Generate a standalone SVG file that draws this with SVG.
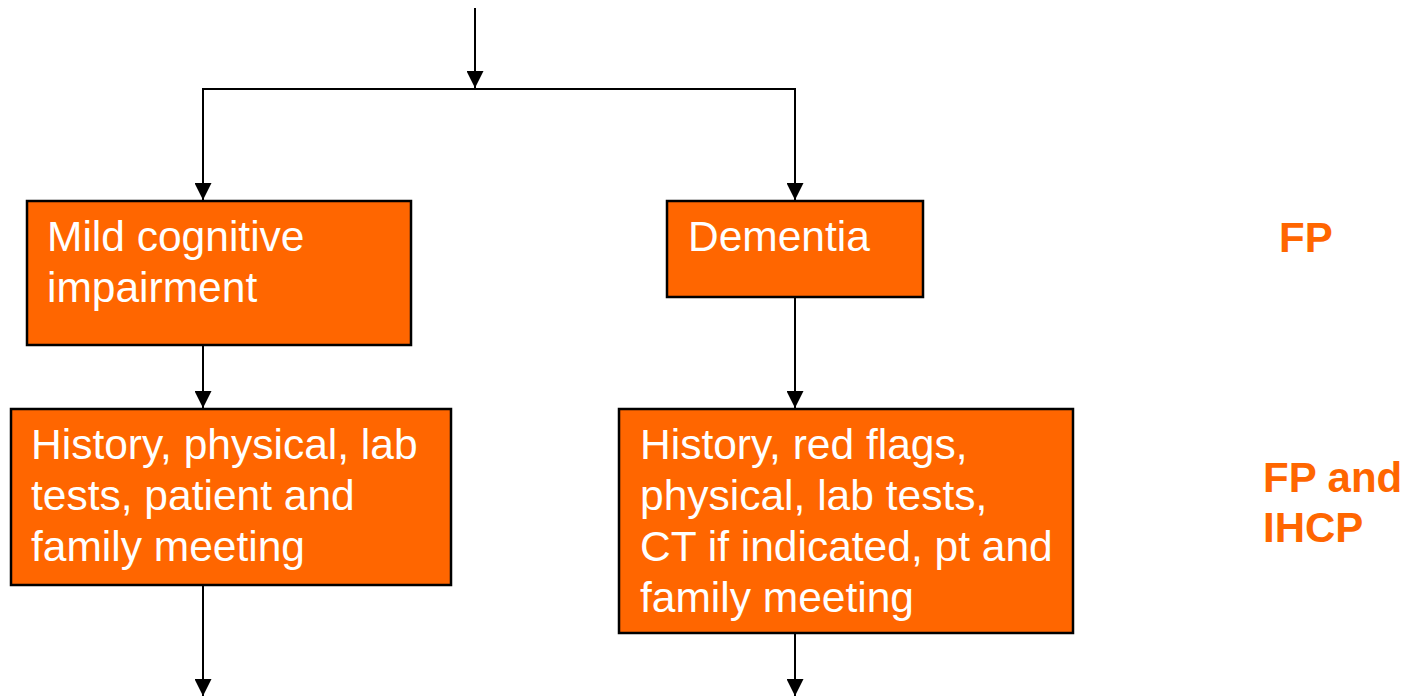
<svg xmlns="http://www.w3.org/2000/svg" width="1414" height="697" viewBox="0 0 1414 697">
  <style>
    .box { fill: #FF6600; stroke: #000; stroke-width: 2.5; }
    .txt { font-family: "Liberation Sans", Arial, sans-serif; font-size: 42.5px; fill: #fff; }
    .role { font-family: "Liberation Sans", Arial, sans-serif; font-size: 42px; font-weight: bold; fill: #FF6600; }
    .wire { fill: none; stroke: #000; stroke-width: 2; }
  </style>
  <defs>
    <marker id="arrow" markerUnits="userSpaceOnUse" markerWidth="17" markerHeight="17" viewBox="0 0 16 16" refX="16" refY="8" orient="auto">
      <path d="M0,0 L16,8 L0,16 Z" fill="#000"/>
    </marker>
  </defs>

  <rect width="1414" height="697" fill="#fff"/>

  <g id="connectors">
    <!-- incoming line and split bus -->
    <line class="wire" x1="475" y1="8" x2="475" y2="88" marker-end="url(#arrow)"/>
    <line class="wire" x1="202" y1="89" x2="796" y2="89"/>
    <line class="wire" x1="203" y1="89" x2="203" y2="200" marker-end="url(#arrow)"/>
    <line class="wire" x1="795" y1="89" x2="795" y2="200" marker-end="url(#arrow)"/>
    <!-- diagnosis to work-up -->
    <line class="wire" x1="203" y1="345" x2="203" y2="408" marker-end="url(#arrow)"/>
    <line class="wire" x1="795" y1="297" x2="795" y2="408" marker-end="url(#arrow)"/>
    <!-- continuing down -->
    <line class="wire" x1="203" y1="586" x2="203" y2="696" marker-end="url(#arrow)"/>
    <line class="wire" x1="795" y1="633" x2="795" y2="696" marker-end="url(#arrow)"/>
  </g>

  <g id="mci">
    <rect class="box" x="27" y="201" width="384" height="144"/>
    <text class="txt" x="47" y="251">Mild cognitive</text>
    <text class="txt" x="47" y="302">impairment</text>
  </g>

  <g id="dementia">
    <rect class="box" x="667" y="201" width="256" height="96"/>
    <text class="txt" x="688" y="251">Dementia</text>
  </g>

  <g id="mci-workup">
    <rect class="box" x="11" y="409" width="440" height="176"/>
    <text class="txt" x="31" y="459">History, physical, lab</text>
    <text class="txt" x="31" y="510">tests, patient and</text>
    <text class="txt" x="31" y="561">family meeting</text>
  </g>

  <g id="dementia-workup">
    <rect class="box" x="619" y="409" width="454" height="224"/>
    <text class="txt" x="640" y="459">History, red flags,</text>
    <text class="txt" x="640" y="510">physical, lab tests,</text>
    <text class="txt" x="640" y="561">CT if indicated, pt and</text>
    <text class="txt" x="640" y="612">family meeting</text>
  </g>

  <g id="role-fp">
    <text class="role" x="1279" y="252">FP</text>
  </g>

  <g id="role-fp-ihcp">
    <text class="role" x="1263" y="492">FP and</text>
    <text class="role" x="1263" y="542">IHCP</text>
  </g>
</svg>
